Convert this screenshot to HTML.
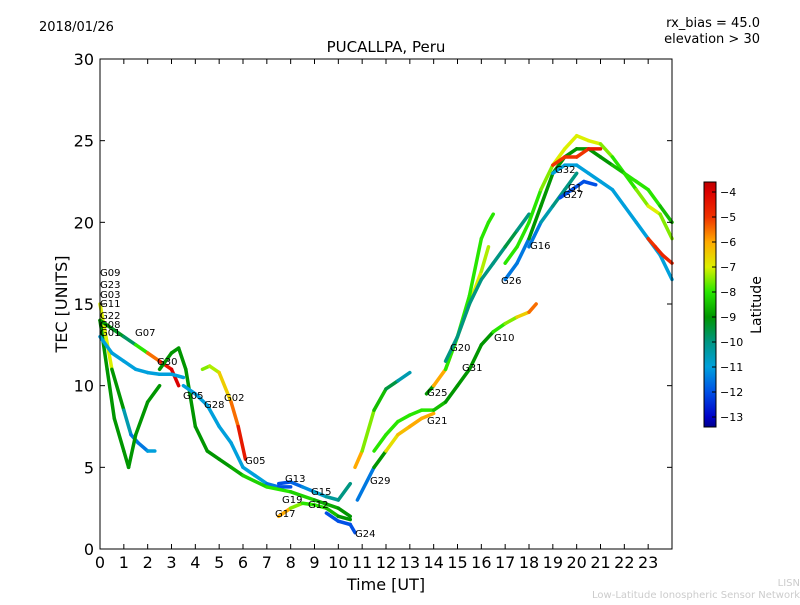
<!DOCTYPE html>
<html><head><meta charset="utf-8"><style>
body{margin:0;background:#fff;}
svg{font-family:"DejaVu Sans","Liberation Sans",sans-serif;}
</style></head><body>
<svg id="c" width="800" height="600" xmlns="http://www.w3.org/2000/svg">
<defs><linearGradient id="jet" x1="0" y1="1" x2="0" y2="0" id2="g">
<stop offset="0" stop-color="#00008c"/><stop offset="0.04" stop-color="#0000c8"/><stop offset="0.143" stop-color="#0050e6"/><stop offset="0.245" stop-color="#00a0dc"/><stop offset="0.347" stop-color="#009682"/><stop offset="0.449" stop-color="#009600"/><stop offset="0.551" stop-color="#28e600"/><stop offset="0.653" stop-color="#dcf000"/><stop offset="0.755" stop-color="#ffaa00"/><stop offset="0.857" stop-color="#f03200"/><stop offset="0.959" stop-color="#dc0000"/><stop offset="1" stop-color="#be0000"/></linearGradient></defs>
<text x="39" y="31" font-size="13">2018/01/26</text>
<text x="760" y="27" font-size="13" text-anchor="end">rx_bias = 45.0</text>
<text x="760" y="43" font-size="13" text-anchor="end">elevation &gt; 30</text>
<text x="386" y="52" font-size="15" text-anchor="middle">PUCALLPA, Peru</text>
<rect x="100" y="59" width="572" height="490" fill="#fff" stroke="none"/>
<g id="marks"></g>
<rect x="100" y="59" width="572" height="490" fill="none" stroke="#000"/>
<g id="axes"></g>
<text x="386" y="590" font-size="16" text-anchor="middle">Time [UT]</text>
<text x="67" y="304" font-size="16" text-anchor="middle" transform="rotate(-90 67 304)">TEC [UNITS]</text>
<rect x="704" y="182" width="12" height="245" fill="url(#jet)" stroke="#000"/>
<g id="cbticks"></g>
<text x="761" y="305" font-size="14" text-anchor="middle" transform="rotate(-90 761 305)">Latitude</text>
<text x="800" y="586" font-size="10" fill="#ccc" text-anchor="end">LISN</text>
<text x="800" y="598" font-size="10" fill="#ccc" text-anchor="end">Low-Latitude Ionospheric Sensor Network</text>
</svg>
<script>
const xTicks=[0,1,2,3,4,5,6,7,8,9,10,11,12,13,14,15,16,17,18,19,20,21,22,23];
const yTicks=[0,5,10,15,20,25,30];
const cbTicks=[-4,-5,-6,-7,-8,-9,-10,-11,-12,-13];
const trackNames=["G09","G23","G07","G11","G30","G02","G05","G28","G13","G17","G24","G29","G12","G21","G25","G20","G31","G10","G26","G16","G32","G01","G27","G03","G22","G08"];
const trackTimes=[
[0,0.5,1,1.3,1.6,2,2.3],
[0,0.3,0.6,1,1.2,1.5,2,2.5],
[0,0.5,1,1.5,2,2.5,3,3.3],
[0,0.5,1,1.5,2,2.5,3,3.5],
[2.5,3,3.3,3.6,4,4.5],
[4.3,4.6,5,5.5,5.8,6.1],
[3.5,4,4.5,5,5.5,6,6.5,7,7.5,8],
[4.5,5,5.5,6,7,8,9,10,10.5],
[7.5,8,8.5,9,9.5,10,10.5],
[7.5,8,8.5,9,9.5,10,10.5],
[9.5,10,10.5,10.7],
[10.7,11,11.5,12,12.5,13],
[10.8,11.5,12,12.5,13,13.5,14],
[11.5,12,12.5,13,13.5,14,14.5,15,15.5,16,16.5],
[13.7,14,14.5,15,15.5,16,16.3],
[14.5,15,15.5,16,16.3,16.5],
[14.5,15,15.5,16,16.5,17,17.5,18],
[16.5,17,17.5,18,18.3],
[17,17.5,18],
[18,18.5,19,19.5,20],
[17,17.5,18,18.5,19,19.5,20,20.5,21,21.5,22,22.5,23,23.5,24],
[18,18.5,19,19.5,20,20.5,21,21.5,22,22.5,23,23.5,24],
[19,19.5,20,20.5,21,21.5,22,22.5,23,23.5,24],
[19,19.5,20,20.5,21],
[19.3,19.8,20.3,20.8],
[23,23.3,23.6,24]];
const trackTec=[
[15,11,8.5,7,6.5,6,6],
[14,11,8,6,5,7,9,10],
[14,13.5,13,12.5,12,11.5,11,10],
[13,12,11.5,11,10.8,10.7,10.7,10.5],
[11,12,12.3,11,7.5,6],
[11,11.2,10.8,9,7.5,5.5],
[10,9.5,8.8,7.5,6.5,5,4.5,4,3.8,3.8],
[6,5.5,5,4.5,3.8,3.5,3,2.5,2],
[4,4.1,3.8,3.5,3.2,3,4],
[2,2.5,2.8,2.7,2.5,2,1.8],
[2.2,1.7,1.5,1],
[5,6,8.5,9.8,10.3,10.8],
[3,5,6,7,7.5,8,8.3],
[6,7,7.8,8.2,8.5,8.5,9,10,11,12.5,13.3],
[9.5,10,11,13,15,17,18.5],
[11,13,15.5,19,20,20.5],
[11.5,13,15,16.5,17.5,18.5,19.5,20.5],
[13.3,13.8,14.2,14.5,15],
[16.5,17.5,19],
[18.5,20,21,22,23],
[17.5,18.5,20,22,23.5,24.5,25.3,25,24.8,24,23,22,21,20.5,19],
[19,21,23,24,24.5,24.5,24,23.5,23,22.5,22,21,20],
[23,23.5,23.5,23,22.5,22,21,20,19,18,16.5],
[23.5,24,24,24.5,24.5],
[21.5,22,22.5,22.3],
[19,18.5,18,17.5]];
const trackLat=[
[-6,-8,-10,-11,-12,-11,-11],
[-9,-9,-9,-9,-9,-9,-9,-9],
[-9,-9,-9.5,-10,-6,-5,-4,-4],
[-11,-11,-11,-11,-11,-11,-11,-11],
[-9,-9,-9,-9,-9,-9],
[-7.5,-7.5,-7,-6,-5,-4],
[-11,-11,-11,-11,-11,-11,-11,-11,-12,-12],
[-9,-9,-9,-8.5,-8,-8,-8.5,-9,-9],
[-12,-12,-11.5,-11,-10.5,-10,-10],
[-5,-7,-8,-8,-8,-9,-9],
[-12,-12,-12,-12],
[-5,-7,-8,-9,-10,-11],
[-12,-11,-7,-6.5,-6,-6,-6],
[-8,-8,-8,-8,-8,-8,-9,-9,-9,-9,-9],
[-12,-6,-6,-6,-7,-7,-7.5],
[-8,-8,-8,-8,-8,-8],
[-10,-10,-10,-10,-10,-10,-9,-11],
[-8,-8,-7,-6,-5],
[-12,-11,-12],
[-12,-11,-10,-10,-10],
[-8,-8,-8,-8,-7,-7,-7,-7,-7,-8,-8,-8,-7,-7,-8],
[-9,-9,-9,-9,-9,-9,-9,-9,-8,-8,-8,-8,-9],
[-11,-11,-11,-11,-11,-11,-11,-11,-11,-11,-11],
[-5,-5,-5,-5,-4],
[-12,-12,-12,-12],
[-5,-5,-4.5,-5]];
const labelNames=["G09","G23","G03","G11","G22","G08","G01","G07","G30","G05","G28","G02","G05","G13","G19","G15","G12","G17","G24","G29","G21","G25","G20","G31","G10","G26","G16","G32","G1","G27"];
const labelPos=[[100,276],[100,288],[100,298],[100,307],[100,319],[100,328],[100,336],[135,336],[157,365],[183,399],[204,408],[224,401],[245,464],[285,482],[282,503],[311,495],[308,508],[275,517],[355,537],[370,484],[427,424],[427,396],[450,351],[462,371],[494,341],[501,284],[530,249],[555,173],[568,191],[563,198]];
const NS="http://www.w3.org/2000/svg";
const X=t=>100+t*572/24, Y=v=>549-v*490/30;
const LMIN=-13.4,LMAX=-3.6, CBY=l=>427-(l-LMIN)/(LMAX-LMIN)*245;
const cmapL=[-13.4,-13,-12,-11,-10,-9,-8,-7,-6,-5,-4,-3.6];
const cmapC=[[0,0,140],[0,0,200],[0,80,230],[0,160,220],[0,150,130],[0,150,0],[40,230,0],[220,240,0],[255,170,0],[240,50,0],[220,0,0],[190,0,0]];
function jet(l){l=Math.max(LMIN,Math.min(LMAX,l));
 for(let i=0;i<cmapL.length-1;i++){if(l<=cmapL[i+1]){const f=(l-cmapL[i])/(cmapL[i+1]-cmapL[i]);const a=cmapC[i],b=cmapC[i+1];
 return `rgb(${Math.round(a[0]+(b[0]-a[0])*f)},${Math.round(a[1]+(b[1]-a[1])*f)},${Math.round(a[2]+(b[2]-a[2])*f)})`;}}
 return 'rgb(190,0,0)';}
const marks=document.getElementById('marks');
trackTimes.forEach((ts,i)=>{
 const g=document.createElementNS(NS,'g');
 
 
 for(let k=0;k<ts.length-1;k++){
  const ln=document.createElementNS(NS,'line');
  ln.setAttribute('x1',X(ts[k]));ln.setAttribute('y1',Y(trackTec[i][k]));
  ln.setAttribute('x2',X(ts[k+1]));ln.setAttribute('y2',Y(trackTec[i][k+1]));
  ln.setAttribute('stroke',jet((trackLat[i][k]+trackLat[i][k+1])/2));
  ln.setAttribute('stroke-width','3.5');ln.setAttribute('stroke-linecap','round');
  
  
  g.appendChild(ln);
 }
 marks.appendChild(g);
});
labelNames.forEach((n,i)=>{
 const t=document.createElementNS(NS,'text');
 t.setAttribute('x',labelPos[i][0]);t.setAttribute('y',labelPos[i][1]);
 t.setAttribute('font-size','10');t.textContent=n;
 
 
 marks.appendChild(t);
});
const ax=document.getElementById('axes');
function add(tag,attrs,txt){const e=document.createElementNS(NS,tag);for(const k in attrs)e.setAttribute(k,attrs[k]);if(txt!==undefined)e.textContent=txt;ax.appendChild(e);return e;}
xTicks.forEach(t=>{
 const e=add('line',{x1:X(t),x2:X(t),y1:549,y2:544,stroke:'#000'});
 
 
 const e2=add('line',{x1:X(t),x2:X(t),y1:59,y2:64,stroke:'#000'});
 
 
 const l=add('text',{x:X(t),y:568,'font-size':16,'text-anchor':'middle'},String(t));
 
 
});
yTicks.forEach(v=>{
 const e=add('line',{x1:100,x2:105,y1:Y(v),y2:Y(v),stroke:'#000'});
 
 
 const e2=add('line',{x1:667,x2:672,y1:Y(v),y2:Y(v),stroke:'#000'});
 
 
 const l=add('text',{x:94,y:Y(v)+6,'font-size':16,'text-anchor':'end'},String(v));
 
 
});
const cb=document.getElementById('cbticks');
cbTicks.forEach(v=>{
 const e=document.createElementNS(NS,'line');
 e.setAttribute('x1',712);e.setAttribute('x2',716);e.setAttribute('y1',CBY(v));e.setAttribute('y2',CBY(v));e.setAttribute('stroke','#000');
 
 
 cb.appendChild(e);
 const t=document.createElementNS(NS,'text');
 t.setAttribute('x',720);t.setAttribute('y',CBY(v)+4);t.setAttribute('font-size','11');
 t.textContent='\u2212'+Math.abs(v);
 
 
 cb.appendChild(t);
});
</script>
</body></html>
